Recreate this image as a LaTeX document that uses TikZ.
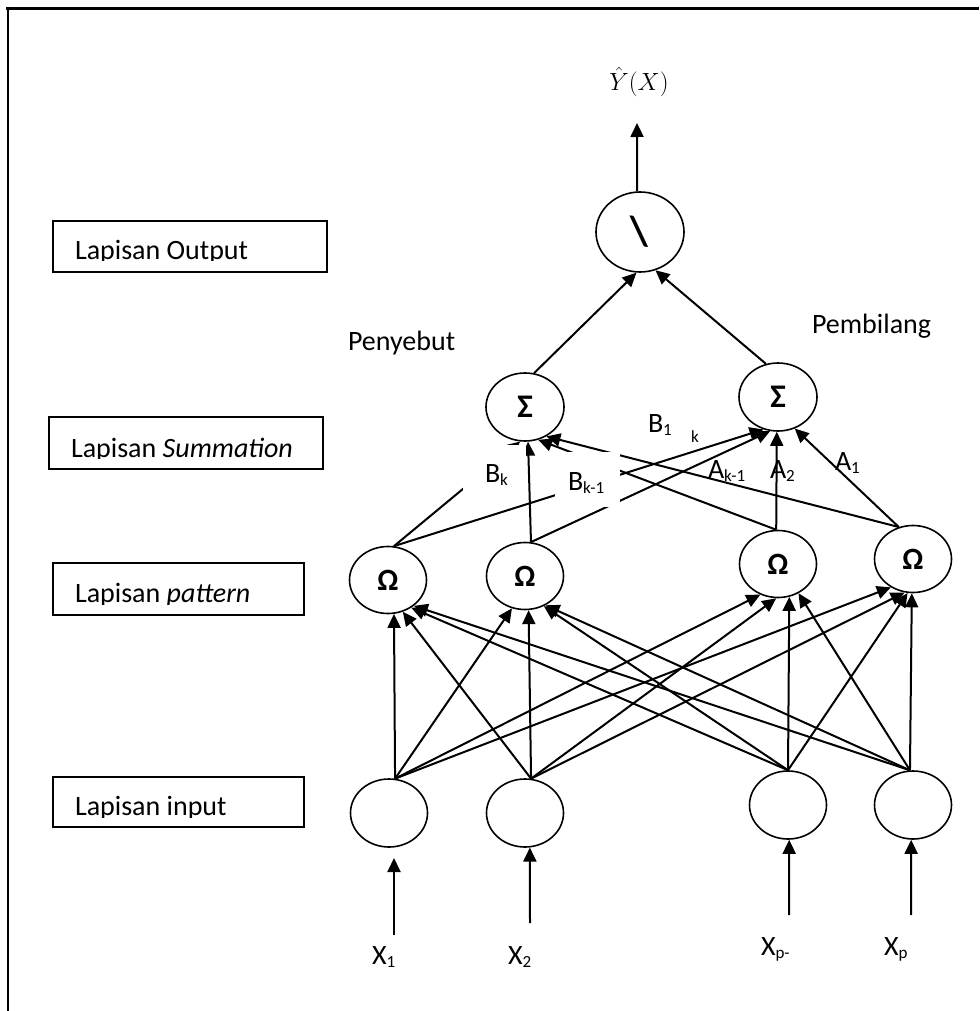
\documentclass[tikz,border=0pt]{standalone}
\usepackage{fontspec}
\setmainfont{Carlito}
\usetikzlibrary{shapes.geometric,arrows.meta}
\newcommand{\mysub}[1]{\raisebox{-0.12em}{\fontsize{17}{17}\selectfont #1}}
\begin{document}
\begin{tikzpicture}[x=1pt,y=-1pt,
  txt/.style={font=\fontsize{28}{30}\selectfont, inner sep=0pt, outer sep=0pt},
  neuron/.style={ellipse, draw, line width=1.6pt, minimum width=77pt, minimum height=67pt, inner sep=0pt},
  omega/.style={neuron, font=\bfseries\fontsize{31}{31}\selectfont},
  sigma/.style={neuron, minimum width=78pt, minimum height=68pt, font=\bfseries\fontsize{33}{33}\selectfont},
  conn/.style={line width=2pt, -{Triangle[length=14pt,width=13pt]}},
  layerbox/.style={draw, line width=1.8pt, inner sep=0pt},
  mask/.style={fill=white, inner sep=0pt}]
\useasboundingbox (0,0) rectangle (979,1011);
% frame
\draw[line width=3pt] (6,8.5) -- (979,8.5);
\draw[line width=2pt] (8,8) -- (8,1011);

% layer boxes
\node[layerbox, minimum width=274pt, minimum height=51pt] (bout) at (190,246.5) {};
\node[layerbox, minimum width=274pt, minimum height=52pt] (bsum) at (186,443) {};
\node[layerbox, minimum width=251pt, minimum height=52pt] (bpat) at (178.5,589) {};
\node[layerbox, minimum width=251pt, minimum height=50pt] (binp) at (178.5,802) {};
\begin{scope}
\clip (53,221) rectangle (327,260);
\node[txt, anchor=base west] (tout) at (75,259) {Lapisan Output};
\end{scope}
\begin{scope}
\clip (49,417) rectangle (323,458);
\node[txt, anchor=base west] (tsum) at (71,457) {Lapisan \textit{Summation}};
\end{scope}
\begin{scope}
\clip (53,563) rectangle (304,604);
\node[txt, anchor=base west] (tpat) at (75,602) {Lapisan \textit{pattern}};
\end{scope}
\begin{scope}
\clip (53,777) rectangle (304,817);
\node[txt, anchor=base west] (tinp) at (75,815) {Lapisan input};
\end{scope}

% neurons
\node[neuron, minimum width=88pt, minimum height=80pt, font=\bfseries\fontsize{42}{42}\selectfont] (out) at (640,232) {\raisebox{-4pt}{\textbackslash}};
\node[sigma] (sl) at (525,407) {\raisebox{-5pt}{Σ}};
\node[sigma] (sr) at (778,397) {\raisebox{-5pt}{Σ}};
\node[omega] (p1) at (388,580) {\raisebox{-3pt}{Ω}};
\node[omega] (p2) at (525,576) {\raisebox{-3pt}{Ω}};
\node[omega] (p3) at (778,564) {\raisebox{-3pt}{Ω}};
\node[omega] (p4) at (913,559) {\raisebox{-3pt}{Ω}};
\node[neuron, minimum height=68pt] (i1) at (389,813) {};
\node[neuron, minimum height=68pt] (i2) at (525,813) {};
\node[neuron, minimum height=68pt] (i3) at (788,805) {};
\node[neuron, minimum height=68pt] (i4) at (913,805) {};

% free ends
\coordinate (yend) at (637,123);
\coordinate (x1s) at (394,935);
\coordinate (x1e) at (394,858);
\coordinate (x2s) at (530,923);
\coordinate (x3s) at (789,915);
\coordinate (x4s) at (911,915);

% output
\node[font=\fontsize{26}{26}\selectfont, inner sep=0pt] (yhat) at (639,82) {$\hat{Y}(X)$};
\draw[conn] (out.94) -- (yend);
\draw[conn] (sl.75) -- (out.-95);
\draw[conn] (sr.110) -- (out.-68);

% inputs
\draw[conn] (x1s) -- (x1e);
\draw[conn] (x2s) -- (i2.-82);
\draw[conn] (x3s) -- (i3.-88);
\draw[conn] (x4s) -- (i4.-93);

% input -> pattern
\draw[conn] (i1.80) -- (p1.-80);
\draw[conn] (i1.80) -- (p2.-112);
\draw[conn] (i1.80) -- (p3.-120);
\draw[conn] (i1.80) -- (p4.-128);
\draw[conn] (i2.80) -- (p1.-65);
\draw[conn] (i2.80) -- (p2.-84);
\draw[conn] (i2.80) -- (p3.-93);
\draw[conn] (i2.80) -- (p4.-104);
\draw[conn] (i3.90) -- (p1.-50);
\draw[conn] (i3.90) -- (p2.-58);
\draw[conn] (i3.90) -- (p3.-71);
\draw[conn] (i3.90) -- (p4.-99);
\draw[conn] (i4.95) -- (p1.-45);
\draw[conn] (i4.95) -- (p2.-55);
\draw[conn] (i4.95) -- (p3.-55);
\draw[conn] (i4.95) -- (p4.-92);

% pattern -> summation
\draw[conn] (p1.80) -- (sl.-98);
\draw[conn] (p1.80) -- (sr.-114);
\draw[conn] (p2.80) -- (sl.-85);
\draw[conn] (p2.80) -- (sr.-103);
\draw[conn] (p3.93) -- (sl.-68);
\draw[conn] (p3.93) -- (sr.-92);
\draw[conn] (p4.114) -- (sl.-54);
\draw[conn] (p4.114) -- (sr.-62);

% label masks
\node[mask, minimum width=63pt, minimum height=53pt] (bkbox) at (494.5,471.5) {};
\node[mask, minimum width=65pt, minimum height=55pt] (bk1box) at (587.5,479.5) {};

% labels
\node[txt, anchor=base west] (penyebut) at (348,350) {Penyebut};
\node[txt, anchor=base west] (pembilang) at (812,333) {Pembilang};
\node[txt, anchor=base west] (lb1) at (648,432) {B\mysub{1}};
\node[inner sep=0pt, font=\fontsize{17}{17}\selectfont] (lk) at (695,437) {k};
\node[txt, anchor=base west] (lbk) at (485,482) {B\mysub{k}};
\node[txt, anchor=base west] (lbk1) at (568,490) {B\mysub{k-1}};
\node[txt, anchor=base west] (lak1) at (708,478) {A\mysub{k-1}};
\node[txt, anchor=base west] (la2) at (770,478) {A\mysub{2}};
\node[txt, anchor=base west] (la1) at (835,470) {A\mysub{1}};
\node[txt, anchor=base west] (lx1) at (372,964) {X\mysub{1}};
\node[txt, anchor=base west] (lx2) at (508,964) {X\mysub{2}};
\node[txt, anchor=base west] (lxp1) at (761,955) {X\mysub{p-}};
\node[txt, anchor=base west] (lxp) at (884,955) {X\mysub{p}};
\end{tikzpicture}
\end{document}
